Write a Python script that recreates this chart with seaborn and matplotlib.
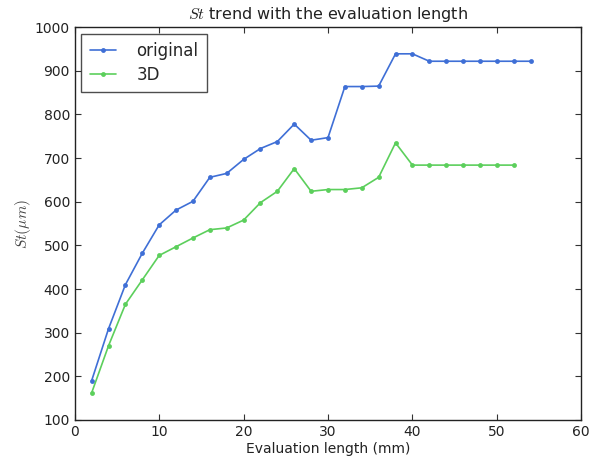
import pandas as pd
import numpy as np
import matplotlib
matplotlib.use('Agg')
import matplotlib.pyplot as plt
import seaborn as sns

# Evaluation lengths (mm)
length_orig = [2, 4, 6, 8, 10, 12, 14, 16, 18, 20, 22, 24, 26, 28, 30,
               32, 34, 36, 38, 40, 42, 44, 46, 48, 50, 52, 54]
st_orig = [190, 309, 410, 482, 547, 581, 601, 656, 665, 697, 722, 738, 778, 741, 747,
           864, 864, 865, 939, 939, 922, 922, 922, 922, 922, 922, 922]

length_3d = [2, 4, 6, 8, 10, 12, 14, 16, 18, 20, 22, 24, 26, 28, 30,
             32, 34, 36, 38, 40, 42, 44, 46, 48, 50, 52]
st_3d = [162, 270, 365, 421, 477, 497, 517, 536, 540, 558, 598, 624, 676, 624, 628,
         628, 632, 656, 735, 684, 684, 684, 684, 684, 684, 684]

df = pd.concat([
    pd.DataFrame({'length': length_orig, 'St': st_orig, 'series': 'original'}),
    pd.DataFrame({'length': length_3d, 'St': st_3d, 'series': '3D'}),
])

sns.set_style('white')
plt.rcParams['font.family'] = ['DejaVu Sans']
plt.rcParams['mathtext.fontset'] = 'cm'
plt.rcParams['xtick.direction'] = 'in'
plt.rcParams['ytick.direction'] = 'in'

fig = plt.figure(figsize=(5.98, 4.61), dpi=100)
ax = fig.add_axes([0.125, 0.089, 0.847, 0.852])

sns.lineplot(data=df, x='length', y='St', hue='series',
             palette={'original': '#3f6fd6', '3D': '#5ccf5c'},
             marker='o', markersize=3.5, markeredgewidth=0, linewidth=1.2, ax=ax)

ax.set_xlim(0, 60)
ax.set_ylim(100, 1000)
ax.set_xticks(range(0, 61, 10))
ax.set_yticks(range(100, 1001, 100))
ax.tick_params(axis='both', labelsize=10, length=4, width=0.8, top=True, right=True,
               bottom=True, left=True, color='#333333', labelcolor='#222222')
for s in ax.spines.values():
    s.set_color('#222222')
    s.set_linewidth(1.0)

ax.set_title(r'$St$ trend with the evaluation length', fontsize=11.5, color='#222222')
ax.set_xlabel('Evaluation length (mm)', fontsize=10, color='#222222', labelpad=2)
ax.set_ylabel(r'$St(\mu m)$', fontsize=11, color='#444444', labelpad=1)

leg = ax.legend(loc='upper left', fontsize=12, frameon=True, fancybox=False,
                handlelength=1.6, handletextpad=1.2, borderpad=0.5, labelspacing=0.35,
                borderaxespad=0.4)
leg.get_frame().set_edgecolor('#222222')
leg.get_frame().set_linewidth(1.0)

plt.savefig('out.png', dpi=100)
plt.close()
